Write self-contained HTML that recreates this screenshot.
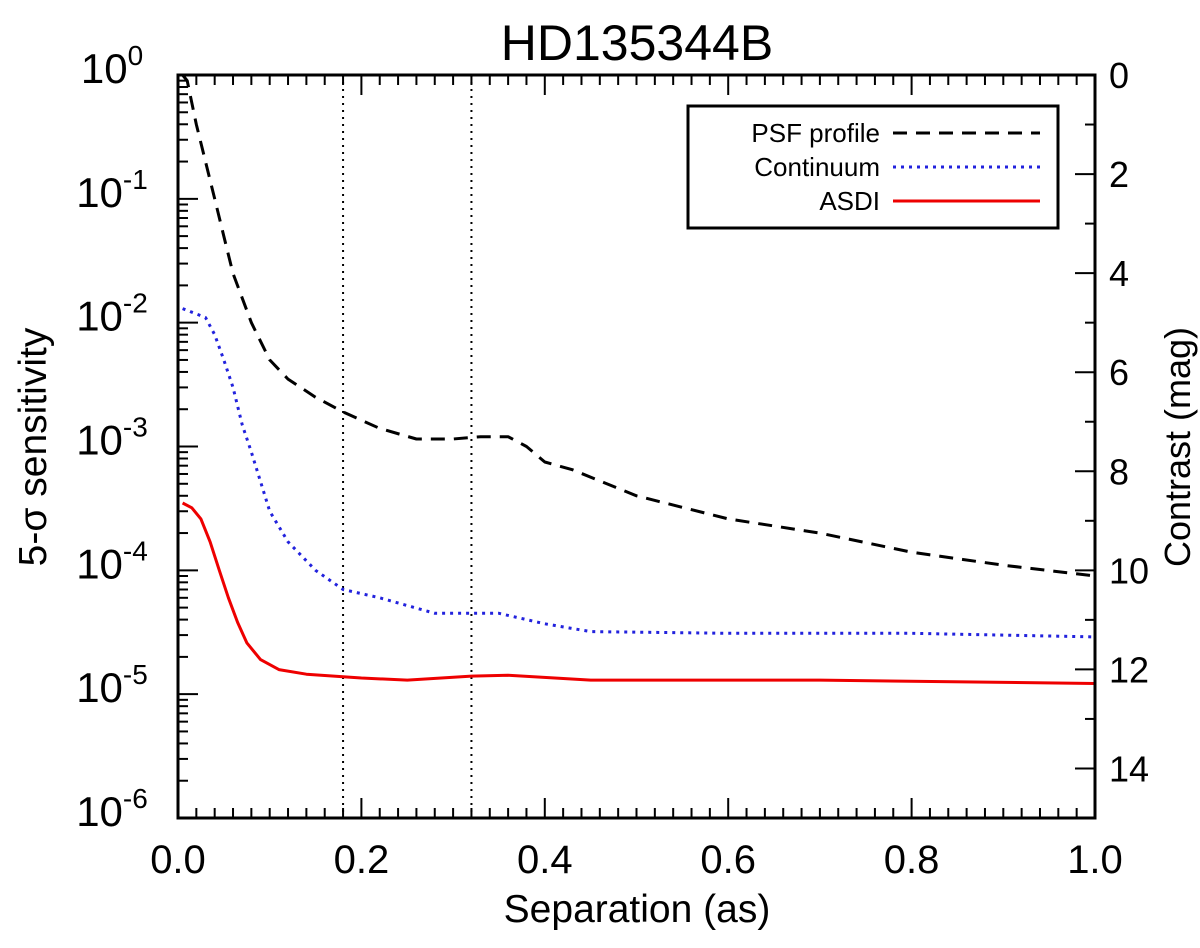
<!DOCTYPE html>
<html><head><meta charset="utf-8"><style>
body{margin:0;background:#fff}
svg{display:block;font-family:"Liberation Sans",sans-serif}
</style></head><body>
<svg id="c" width="1200" height="948">
<text x="637" y="60" font-size="50" text-anchor="middle">HD135344B</text>
<g id="plot"></g>
<text transform="translate(46,447) rotate(-90)" font-size="39" text-anchor="middle">5-σ sensitivity</text>
<text transform="translate(1190,447) rotate(-90)" font-size="36" text-anchor="middle">Contrast (mag)</text>
<text x="637" y="922" font-size="39" text-anchor="middle">Separation (as)</text>
<g>
<rect x="688" y="106" width="370" height="122" fill="#fff" stroke="#000" stroke-width="3"/>
<text x="880" y="142" font-size="26" text-anchor="end">PSF profile</text>
<line x1="893" y1="133" x2="1040" y2="133" stroke="#000" stroke-width="3" stroke-dasharray="14,9"/>
<text x="880" y="176" font-size="26" text-anchor="end">Continuum</text>
<line x1="893" y1="167" x2="1040" y2="167" stroke="#2222dd" stroke-width="3" stroke-dasharray="3,5"/>
<text x="880" y="210" font-size="26" text-anchor="end">ASDI</text>
<line x1="893" y1="201" x2="1040" y2="201" stroke="#ee0000" stroke-width="3"/>
</g>
</svg>
<script>
const psfX=[0.005,0.01,0.02,0.03,0.04,0.05,0.06,0.08,0.1,0.12,0.15,0.18,0.22,0.26,0.3,0.33,0.36,0.38,0.4,0.43,0.5,0.6,0.7,0.8,0.9,1.0];
const psfY=[1.0,0.9,0.4,0.2,0.1,0.05,0.025,0.01,0.005,0.0035,0.0025,0.0019,0.0014,0.00115,0.00115,0.0012,0.0012,0.001,0.00075,0.00065,0.0004,0.00026,0.0002,0.00014,0.00011,0.00009];
const contX=[0.005,0.03,0.04,0.05,0.06,0.07,0.08,0.1,0.12,0.15,0.18,0.22,0.28,0.32,0.35,0.4,0.45,0.6,0.8,1.0];
const contY=[0.013,0.011,0.008,0.005,0.003,0.0015,0.0009,0.0003,0.00017,0.0001,0.00007,0.00006,0.000045,0.000045,0.000045,0.000037,0.000032,0.000031,0.000031,0.000029];
const asdiX=[0.005,0.015,0.025,0.035,0.045,0.055,0.065,0.075,0.09,0.11,0.14,0.2,0.25,0.32,0.36,0.45,0.7,1.0];
const asdiY=[0.00035,0.00032,0.00026,0.00017,0.0001,0.00006,0.000038,0.000026,0.000019,0.0000158,0.0000145,0.0000135,0.000013,0.000014,0.0000142,0.000013,0.000013,0.0000122];
const xTicks=["0.0","0.2","0.4","0.6","0.8","1.0"];
const yDecades=[0,-1,-2,-3,-4,-5,-6];
const magTicks=["0","2","4","6","8","10","12","14"];
const vLines=[0.18,0.32];

const L=178,R=1095,T=75,B=818;
const sx=v=>L+(v-0)/(1-0)*(R-L);
const sy=v=>T+(-Math.log10(v))/6*(B-T);
const sm=m=>T+m/15*(B-T);
const NS='http://www.w3.org/2000/svg';
const g=document.getElementById('plot');
function mk(t,a){const e=document.createElementNS(NS,t);for(const k in a)e.setAttribute(k,a[k]);g.appendChild(e);return e;}

vLines.forEach(v=>{const e=mk('line',{x1:sx(v),x2:sx(v),y1:T,y2:B,stroke:'#000','stroke-width':2,'stroke-dasharray':'2,5'});

});

function series(xs,ys,attrs,name){
 const d=xs.map((x,i)=>(i?'L':'M')+sx(x).toFixed(1)+','+sy(ys[i]).toFixed(1)).join('');
 const e=mk('path',Object.assign({d:d,fill:'none','stroke-linejoin':'round'},attrs));
 
 
}
series(psfX,psfY,{stroke:'#000','stroke-width':3,'stroke-dasharray':'14,9'},'psf-profile-line');
series(contX,contY,{stroke:'#2222dd','stroke-width':3,'stroke-dasharray':'3,5'},'continuum-line');
series(asdiX,asdiY,{stroke:'#ee0000','stroke-width':3},'asdi-line');

const fr=mk('rect',{x:L,y:T,width:R-L,height:B-T,fill:'none',stroke:'#000','stroke-width':3});



for(let i=0;i<=50;i++){const v=i/50;const len=(i%10==0)?20:10;
 mk('line',{x1:sx(v),x2:sx(v),y1:B,y2:B-len,stroke:'#000','stroke-width':2});
 mk('line',{x1:sx(v),x2:sx(v),y1:T,y2:T+len,stroke:'#000','stroke-width':2});}
xTicks.forEach(t=>{const e=mk('text',{x:sx(parseFloat(t)),y:B+55,'font-size':40,'text-anchor':'middle'});e.textContent=t;
 
 });

yDecades.forEach(d=>{const y=sy(Math.pow(10,d));
 mk('line',{x1:L,x2:L+20,y1:y,y2:y,stroke:'#000','stroke-width':2});
 if(d>-6)for(let k=2;k<10;k++){const yy=sy(k*Math.pow(10,d-1));mk('line',{x1:L,x2:L+10,y1:yy,y2:yy,stroke:'#000','stroke-width':2});}
 const e=mk('text',{x:112,y:y+8,'font-size':42,'text-anchor':'middle'});
 
 
 e.innerHTML='10<tspan dy="-18" font-size="28">'+(d==0?'0':'-'+(-d))+'</tspan>';
});

for(let m=0;m<=15;m++){const y=sm(m);mk('line',{x1:R,x2:R-(m%2==0?20:10),y1:y,y2:y,stroke:'#000','stroke-width':2});}
magTicks.forEach(t=>{const e=mk('text',{x:R+14,y:sm(+t)+13,'font-size':36});e.textContent=t;
 
 });
</script>
</body></html>
